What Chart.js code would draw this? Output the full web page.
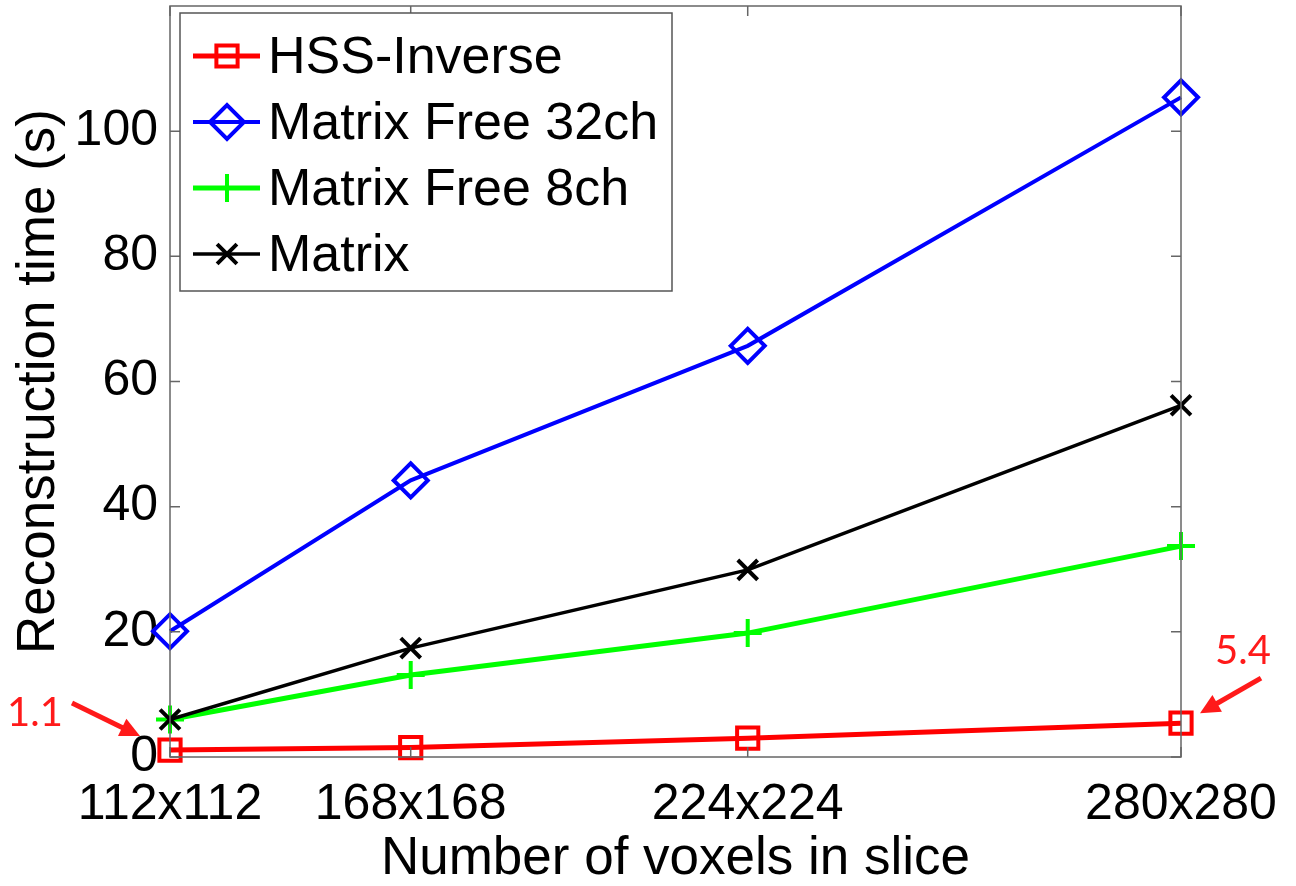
<!DOCTYPE html>
<html>
<head>
<meta charset="utf-8">
<title>Reconstruction time</title>
<script src="https://cdn.jsdelivr.net/npm/chart.js@4.4.0/dist/chart.umd.min.js"></script>
<style>
  html, body { margin: 0; padding: 0; background: #fff; overflow: hidden; }
  #wrap { width: 1296px; height: 901px; margin-top: -15px; }
</style>
</head>
<body>
<div id="wrap"><canvas id="chart"></canvas></div>
<script>
// data
const categories = ['112x112', '168x168', '224x224', '280x280'];
const voxelCounts = [12544, 28224, 50176, 78400];   // x axis is linear in voxels
const hssInverse = [1.1, 1.5, 3.0, 5.4];
const matrixFree32 = [20.1, 44.2, 65.7, 105.4];
const matrixFree8 = [6.0, 13.1, 19.8, 33.7];
const matrixFull = [6.0, 17.4, 29.9, 56.2];
const yTicks = [0, 20, 40, 60, 80, 100];

const FONT = '"Liberation Sans", Arial, Helvetica, sans-serif';

function series(label, values, color, style, radius, lineW, order) {
  return {
    label: label,
    data: values.map((v, i) => ({ x: voxelCounts[i], y: v })),
    borderColor: color,
    backgroundColor: 'transparent',
    borderWidth: lineW,
    pointStyle: style,
    pointRadius: radius,
    pointHoverRadius: radius,
    pointBorderWidth: 4,
    pointBorderColor: color,
    pointBackgroundColor: 'transparent',
    tension: 0,
    clip: false,
    order: order
  };
}

const datasets = [
  series('HSS-Inverse', hssInverse, '#ff0000', 'rect', 15, 5, 4),
  series('Matrix Free 32ch', matrixFree32, '#0000ff', 'rectRot', 17, 4, 3),
  series('Matrix Free 8ch', matrixFree8, '#00ff00', 'cross', 14, 5, 2),
  series('Matrix', matrixFull, '#000000', 'crossRot', 14, 3.5, 1)
];

// frame, inward ticks, legend box and the two red call-outs
const matlabLook = {
  id: 'matlabLook',
  beforeDraw(chart) {
    const ctx = chart.ctx;
    ctx.save();
    ctx.fillStyle = '#fff';
    ctx.fillRect(0, 0, chart.width, chart.height);
    ctx.restore();
  },
  afterDatasetsDraw(chart) {
    const { ctx, chartArea: a, scales: { x, y } } = chart;
    ctx.save();
    ctx.strokeStyle = '#666';
    ctx.lineWidth = 1.5;
    ctx.strokeRect(a.left, a.top, a.right - a.left, a.bottom - a.top);
    ctx.beginPath();
    y.ticks.forEach(t => {
      const py = y.getPixelForValue(t.value);
      ctx.moveTo(a.left, py); ctx.lineTo(a.left + 10, py);
      ctx.moveTo(a.right, py); ctx.lineTo(a.right - 10, py);
    });
    x.ticks.forEach(t => {
      const px = x.getPixelForValue(t.value);
      ctx.moveTo(px, a.bottom); ctx.lineTo(px, a.bottom - 10);
      ctx.moveTo(px, a.top); ctx.lineTo(px, a.top + 10);
    });
    ctx.stroke();

    // legend
    const lx = a.left + 10, ly = a.top + 7, lw = 492, lh = 278;
    ctx.fillStyle = '#fff';
    ctx.fillRect(lx, ly, lw, lh);
    ctx.strokeStyle = '#555';
    ctx.strokeRect(lx, ly, lw, lh);
    ctx.font = '52px ' + FONT;
    ctx.textBaseline = 'middle';
    ctx.textAlign = 'left';
    chart.data.datasets.forEach((ds, i) => {
      const cy = ly + 43 + i * 66;
      ctx.strokeStyle = ds.borderColor;
      ctx.lineWidth = ds.borderWidth;
      ctx.beginPath();
      ctx.moveTo(lx + 13, cy); ctx.lineTo(lx + 80, cy);
      ctx.stroke();
      ctx.lineWidth = ds.pointBorderWidth;
      ctx.fillStyle = 'rgba(0,0,0,0)';
      Chart.helpers.drawPoint(ctx, { pointStyle: ds.pointStyle, radius: ds.pointRadius, borderWidth: ds.pointBorderWidth }, lx + 47, cy);
      ctx.fillStyle = '#000';
      ctx.fillText(ds.label, lx + 88, cy + 3);
    });

    // call-outs for first and last HSS-Inverse values
    ctx.strokeStyle = '#ff1a1a';
    ctx.fillStyle = '#ff1a1a';
    ctx.font = '40px Lato, "Open Sans", sans-serif';
    ctx.textAlign = 'center';
    const first = { x: x.getPixelForValue(voxelCounts[0]), y: y.getPixelForValue(hssInverse[0]) };
    const last = { x: x.getPixelForValue(voxelCounts[3]), y: y.getPixelForValue(hssInverse[3]) };
    arrow(ctx, first.x - 98, first.y - 47, first.x - 30, first.y - 14);
    ctx.fillText(hssInverse[0].toFixed(1), first.x - 135, first.y - 37);
    arrow(ctx, last.x + 80, last.y - 45, last.x + 19, last.y - 10);
    ctx.fillText(hssInverse[3].toFixed(1), last.x + 62, last.y - 72);
    ctx.restore();
  }
};

function arrow(ctx, x1, y1, x2, y2) {
  const ang = Math.atan2(y2 - y1, x2 - x1);
  const head = 22;
  ctx.lineWidth = 5;
  ctx.beginPath();
  ctx.moveTo(x1, y1);
  ctx.lineTo(x2 - Math.cos(ang) * head * 0.7, y2 - Math.sin(ang) * head * 0.7);
  ctx.stroke();
  ctx.beginPath();
  ctx.moveTo(x2, y2);
  ctx.lineTo(x2 - head * Math.cos(ang - 0.45), y2 - head * Math.sin(ang - 0.45));
  ctx.lineTo(x2 - head * Math.cos(ang + 0.45), y2 - head * Math.sin(ang + 0.45));
  ctx.closePath();
  ctx.fill();
}

new Chart(document.getElementById('chart'), {
  type: 'line',
  data: { datasets: datasets },
  plugins: [matlabLook],
  options: {
    responsive: true,
    maintainAspectRatio: false,
    animation: false,
    layout: { padding: { top: 5, right: 115, left: 0, bottom: 0 } },
    plugins: { legend: { display: false }, tooltip: { enabled: false } },
    scales: {
      x: {
        type: 'linear',
        min: voxelCounts[0],
        max: voxelCounts[voxelCounts.length - 1],
        afterBuildTicks: s => { s.ticks = voxelCounts.map(v => ({ value: v })); },
        afterFit: s => { s.height = 129; s.paddingLeft = 0; s.paddingRight = 0; },
        grid: { display: false, drawTicks: false },
        border: { display: false },
        ticks: {
          autoSkip: false,
          maxRotation: 0,
          padding: 18,
          color: '#000',
          font: { family: FONT, size: 50 },
          callback: v => categories[voxelCounts.indexOf(v)]
        },
        title: {
          display: true,
          text: 'Number of voxels in slice',
          color: '#000',
          font: { family: FONT, size: 53, lineHeight: 1.0 },
          padding: { top: 0, bottom: 0 }
        }
      },
      y: {
        min: 0,
        max: 120,
        afterBuildTicks: s => { s.ticks = yTicks.map(v => ({ value: v })); },
        afterFit: s => { s.width = 170; s.paddingTop = 0; s.paddingBottom = 0; },
        grid: { display: false, drawTicks: false },
        border: { display: false },
        ticks: {
          padding: 12,
          color: '#000',
          font: { family: FONT, size: 50 }
        },
        title: {
          display: true,
          text: 'Reconstruction time (s)',
          color: '#000',
          font: { family: FONT, size: 53 },
          padding: { top: 8, bottom: 0 }
        }
      }
    }
  }
});
</script>
</body>
</html>
